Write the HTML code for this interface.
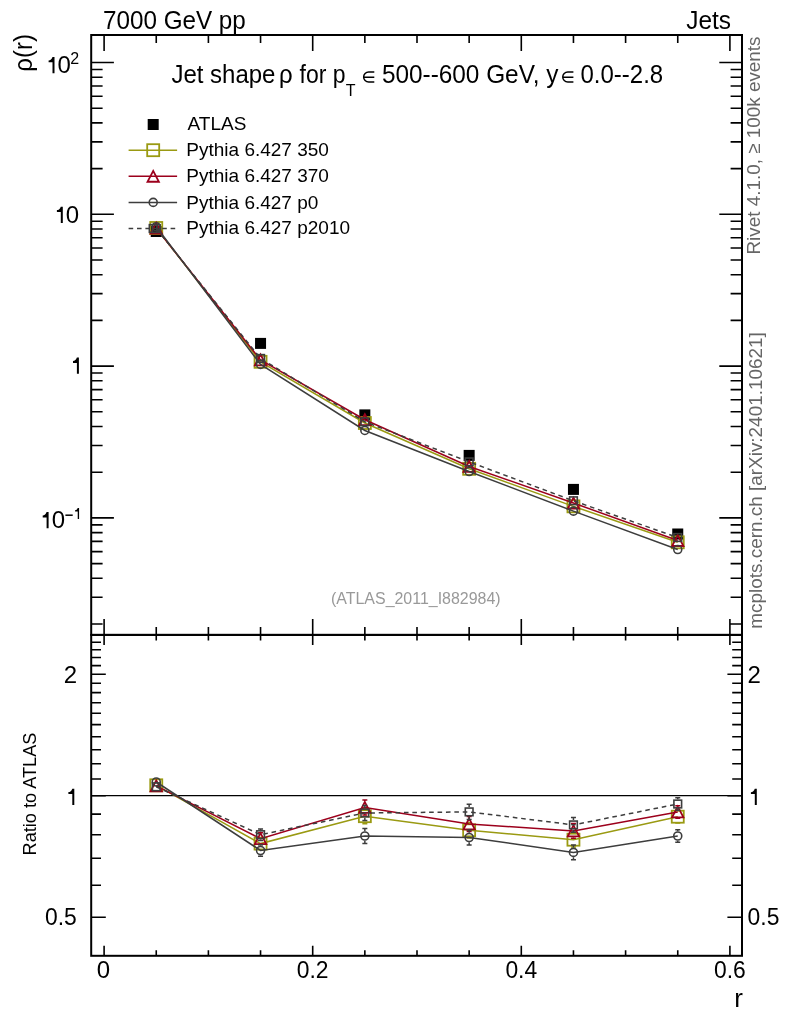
<!DOCTYPE html><html><head><meta charset="utf-8"><style>html,body{margin:0;padding:0;background:#fff;overflow:hidden}svg{display:block;will-change:transform}</style></head><body>
<svg width="786" height="1024" viewBox="0 0 786 1024" font-family="Liberation Sans, sans-serif">
<rect width="786" height="1024" fill="#fff"/>
<path d="M104.10,35.00L104.10,51.00M104.10,634.90L104.10,618.90M104.10,634.90L104.10,644.90M104.10,955.80L104.10,945.80M156.25,35.00L156.25,43.00M156.25,634.90L156.25,626.90M156.25,634.90L156.25,640.40M156.25,955.80L156.25,950.30M208.40,35.00L208.40,43.00M208.40,634.90L208.40,626.90M208.40,634.90L208.40,640.40M208.40,955.80L208.40,950.30M260.55,35.00L260.55,43.00M260.55,634.90L260.55,626.90M260.55,634.90L260.55,640.40M260.55,955.80L260.55,950.30M312.70,35.00L312.70,51.00M312.70,634.90L312.70,618.90M312.70,634.90L312.70,644.90M312.70,955.80L312.70,945.80M364.85,35.00L364.85,43.00M364.85,634.90L364.85,626.90M364.85,634.90L364.85,640.40M364.85,955.80L364.85,950.30M417.00,35.00L417.00,43.00M417.00,634.90L417.00,626.90M417.00,634.90L417.00,640.40M417.00,955.80L417.00,950.30M469.15,35.00L469.15,43.00M469.15,634.90L469.15,626.90M469.15,634.90L469.15,640.40M469.15,955.80L469.15,950.30M521.30,35.00L521.30,51.00M521.30,634.90L521.30,618.90M521.30,634.90L521.30,644.90M521.30,955.80L521.30,945.80M573.45,35.00L573.45,43.00M573.45,634.90L573.45,626.90M573.45,634.90L573.45,640.40M573.45,955.80L573.45,950.30M625.60,35.00L625.60,43.00M625.60,634.90L625.60,626.90M625.60,634.90L625.60,640.40M625.60,955.80L625.60,950.30M677.75,35.00L677.75,43.00M677.75,634.90L677.75,626.90M677.75,634.90L677.75,640.40M677.75,955.80L677.75,950.30M729.90,35.00L729.90,51.00M729.90,634.90L729.90,618.90M729.90,634.90L729.90,644.90M729.90,955.80L729.90,945.80M91.20,624.00L102.60,624.00M742.00,624.00L730.60,624.00M91.20,597.27L102.60,597.27M742.00,597.27L730.60,597.27M91.20,578.31L102.60,578.31M742.00,578.31L730.60,578.31M91.20,563.60L102.60,563.60M742.00,563.60L730.60,563.60M91.20,551.58L102.60,551.58M742.00,551.58L730.60,551.58M91.20,541.41L102.60,541.41M742.00,541.41L730.60,541.41M91.20,532.61L102.60,532.61M742.00,532.61L730.60,532.61M91.20,524.85L102.60,524.85M742.00,524.85L730.60,524.85M91.20,517.90L113.90,517.90M742.00,517.90L719.30,517.90M91.20,472.20L102.60,472.20M742.00,472.20L730.60,472.20M91.20,445.47L102.60,445.47M742.00,445.47L730.60,445.47M91.20,426.51L102.60,426.51M742.00,426.51L730.60,426.51M91.20,411.80L102.60,411.80M742.00,411.80L730.60,411.80M91.20,399.78L102.60,399.78M742.00,399.78L730.60,399.78M91.20,389.61L102.60,389.61M742.00,389.61L730.60,389.61M91.20,380.81L102.60,380.81M742.00,380.81L730.60,380.81M91.20,373.05L102.60,373.05M742.00,373.05L730.60,373.05M91.20,366.10L113.90,366.10M742.00,366.10L719.30,366.10M91.20,320.40L102.60,320.40M742.00,320.40L730.60,320.40M91.20,293.67L102.60,293.67M742.00,293.67L730.60,293.67M91.20,274.71L102.60,274.71M742.00,274.71L730.60,274.71M91.20,260.00L102.60,260.00M742.00,260.00L730.60,260.00M91.20,247.98L102.60,247.98M742.00,247.98L730.60,247.98M91.20,237.81L102.60,237.81M742.00,237.81L730.60,237.81M91.20,229.01L102.60,229.01M742.00,229.01L730.60,229.01M91.20,221.25L102.60,221.25M742.00,221.25L730.60,221.25M91.20,214.30L113.90,214.30M742.00,214.30L719.30,214.30M91.20,168.60L102.60,168.60M742.00,168.60L730.60,168.60M91.20,141.87L102.60,141.87M742.00,141.87L730.60,141.87M91.20,122.91L102.60,122.91M742.00,122.91L730.60,122.91M91.20,108.20L102.60,108.20M742.00,108.20L730.60,108.20M91.20,96.18L102.60,96.18M742.00,96.18L730.60,96.18M91.20,86.01L102.60,86.01M742.00,86.01L730.60,86.01M91.20,77.21L102.60,77.21M742.00,77.21L730.60,77.21M91.20,69.45L102.60,69.45M742.00,69.45L730.60,69.45M91.20,62.50L113.90,62.50M742.00,62.50L719.30,62.50M91.20,917.20L105.80,917.20M742.00,917.20L727.40,917.20M91.20,885.24L101.00,885.24M742.00,885.24L732.20,885.24M91.20,858.22L101.00,858.22M742.00,858.22L732.20,858.22M91.20,834.81L101.00,834.81M742.00,834.81L732.20,834.81M91.20,814.17L101.00,814.17M742.00,814.17L732.20,814.17M91.20,795.70L105.80,795.70M742.00,795.70L727.40,795.70M91.20,778.99L101.00,778.99M742.00,778.99L732.20,778.99M91.20,763.74L101.00,763.74M742.00,763.74L732.20,763.74M91.20,749.71L101.00,749.71M742.00,749.71L732.20,749.71M91.20,736.72L101.00,736.72M742.00,736.72L732.20,736.72M91.20,724.63L101.00,724.63M742.00,724.63L732.20,724.63M91.20,713.32L101.00,713.32M742.00,713.32L732.20,713.32M91.20,702.69L101.00,702.69M742.00,702.69L732.20,702.69M91.20,692.67L101.00,692.67M742.00,692.67L732.20,692.67M91.20,683.20L101.00,683.20M742.00,683.20L732.20,683.20M91.20,674.20L105.80,674.20M742.00,674.20L727.40,674.20M91.20,665.65L101.00,665.65M742.00,665.65L732.20,665.65M91.20,657.50L101.00,657.50M742.00,657.50L732.20,657.50M91.20,649.71L101.00,649.71M742.00,649.71L732.20,649.71M91.20,642.25L101.00,642.25M742.00,642.25L732.20,642.25" stroke="#000" stroke-width="1.6" fill="none"/>
<rect x="91.2" y="35.0" width="650.8" height="599.9" fill="none" stroke="#000" stroke-width="2.0"/>
<rect x="91.2" y="634.9" width="650.8" height="320.9" fill="none" stroke="#000" stroke-width="2.0"/>
<line x1="91.2" y1="795.70" x2="742.0" y2="795.70" stroke="#000" stroke-width="1.3"/>
<defs><clipPath id="cm"><rect x="91.2" y="35.0" width="650.8" height="599.9"/></clipPath><clipPath id="cr"><rect x="91.2" y="634.9" width="650.8" height="320.9"/></clipPath></defs>
<rect x="150.75" y="226.00" width="11" height="11" fill="#000"/>
<rect x="255.05" y="337.90" width="11" height="11" fill="#000"/>
<rect x="359.35" y="409.40" width="11" height="11" fill="#000"/>
<rect x="463.65" y="449.90" width="11" height="11" fill="#000"/>
<rect x="567.95" y="483.90" width="11" height="11" fill="#000"/>
<rect x="672.25" y="528.50" width="11" height="11" fill="#000"/>
<polyline points="156.25,227.99 260.55,361.82 364.85,423.01 469.15,468.81 573.45,506.35 677.75,542.30" fill="none" stroke="#9a9a12" stroke-width="1.5" clip-path="url(#cm)"/>
<rect x="150.25" y="221.99" width="12.0" height="12.0" fill="none" stroke="#9a9a12" stroke-width="1.8"/>
<rect x="254.55" y="355.82" width="12.0" height="12.0" fill="none" stroke="#9a9a12" stroke-width="1.8"/>
<rect x="358.85" y="417.01" width="12.0" height="12.0" fill="none" stroke="#9a9a12" stroke-width="1.8"/>
<rect x="463.15" y="462.81" width="12.0" height="12.0" fill="none" stroke="#9a9a12" stroke-width="1.8"/>
<rect x="567.45" y="500.35" width="12.0" height="12.0" fill="none" stroke="#9a9a12" stroke-width="1.8"/>
<rect x="671.75" y="536.30" width="12.0" height="12.0" fill="none" stroke="#9a9a12" stroke-width="1.8"/>
<polyline points="156.25,785.30 260.55,843.60 364.85,816.20 469.15,830.30 573.45,839.70 677.75,816.70" fill="none" stroke="#9a9a12" stroke-width="1.5" clip-path="url(#cr)"/>
<path d="M258.05,837.80H263.05M258.05,849.40H263.05M364.85,808.60V809.30M364.85,823.10V823.80M362.35,808.60H367.35M362.35,823.80H367.35M469.15,822.70V823.40M469.15,837.20V837.90M466.65,822.70H471.65M466.65,837.90H471.65M573.45,832.30V832.80M573.45,846.60V847.10M570.95,832.30H575.95M570.95,847.10H575.95M675.25,810.40H680.25M675.25,823.00H680.25" stroke="#9a9a12" stroke-width="1.5" fill="none"/>
<rect x="150.25" y="779.30" width="12.0" height="12.0" fill="none" stroke="#9a9a12" stroke-width="1.8"/>
<rect x="254.55" y="837.60" width="12.0" height="12.0" fill="none" stroke="#9a9a12" stroke-width="1.8"/>
<rect x="358.85" y="810.20" width="12.0" height="12.0" fill="none" stroke="#9a9a12" stroke-width="1.8"/>
<rect x="463.15" y="824.30" width="12.0" height="12.0" fill="none" stroke="#9a9a12" stroke-width="1.8"/>
<rect x="567.45" y="833.70" width="12.0" height="12.0" fill="none" stroke="#9a9a12" stroke-width="1.8"/>
<rect x="671.75" y="810.70" width="12.0" height="12.0" fill="none" stroke="#9a9a12" stroke-width="1.8"/>
<polyline points="156.25,228.18 260.55,359.94 364.85,419.74 469.15,466.44 573.45,503.04 677.75,540.53" fill="none" stroke="#9c001c" stroke-width="1.5" clip-path="url(#cm)"/>
<polygon points="156.25,222.73 161.95,233.63 150.55,233.63" fill="none" stroke="#9c001c" stroke-width="1.8"/>
<polygon points="260.55,354.49 266.25,365.39 254.85,365.39" fill="none" stroke="#9c001c" stroke-width="1.8"/>
<polygon points="364.85,414.29 370.55,425.19 359.15,425.19" fill="none" stroke="#9c001c" stroke-width="1.8"/>
<polygon points="469.15,460.99 474.85,471.89 463.45,471.89" fill="none" stroke="#9c001c" stroke-width="1.8"/>
<polygon points="573.45,497.59 579.15,508.49 567.75,508.49" fill="none" stroke="#9c001c" stroke-width="1.8"/>
<polygon points="677.75,535.08 683.45,545.98 672.05,545.98" fill="none" stroke="#9c001c" stroke-width="1.8"/>
<polyline points="156.25,785.80 260.55,838.60 364.85,807.50 469.15,824.00 573.45,830.90 677.75,812.00" fill="none" stroke="#9c001c" stroke-width="1.5" clip-path="url(#cr)"/>
<path d="M258.05,832.80H263.05M258.05,844.40H263.05M364.85,799.90V801.20M364.85,813.80V815.10M362.35,799.90H367.35M362.35,815.10H367.35M469.15,816.40V817.70M469.15,830.30V831.60M466.65,816.40H471.65M466.65,831.60H471.65M573.45,823.50V824.60M573.45,837.20V838.30M570.95,823.50H575.95M570.95,838.30H575.95M675.25,805.70H680.25M675.25,818.30H680.25" stroke="#9c001c" stroke-width="1.5" fill="none"/>
<polygon points="156.25,780.35 161.95,791.25 150.55,791.25" fill="none" stroke="#9c001c" stroke-width="1.8"/>
<polygon points="260.55,833.15 266.25,844.05 254.85,844.05" fill="none" stroke="#9c001c" stroke-width="1.8"/>
<polygon points="364.85,802.05 370.55,812.95 359.15,812.95" fill="none" stroke="#9c001c" stroke-width="1.8"/>
<polygon points="469.15,818.55 474.85,829.45 463.45,829.45" fill="none" stroke="#9c001c" stroke-width="1.8"/>
<polygon points="573.45,825.45 579.15,836.35 567.75,836.35" fill="none" stroke="#9c001c" stroke-width="1.8"/>
<polygon points="677.75,806.55 683.45,817.45 672.05,817.45" fill="none" stroke="#9c001c" stroke-width="1.8"/>
<polyline points="156.25,226.75 260.55,364.41 364.85,430.46 469.15,471.52 573.45,511.13 677.75,549.56" fill="none" stroke="#3d3d3d" stroke-width="1.5" clip-path="url(#cm)"/>
<circle cx="156.25" cy="226.75" r="4.0" fill="none" stroke="#3d3d3d" stroke-width="1.6"/>
<circle cx="260.55" cy="364.41" r="4.0" fill="none" stroke="#3d3d3d" stroke-width="1.6"/>
<circle cx="364.85" cy="430.46" r="4.0" fill="none" stroke="#3d3d3d" stroke-width="1.6"/>
<circle cx="469.15" cy="471.52" r="4.0" fill="none" stroke="#3d3d3d" stroke-width="1.6"/>
<circle cx="573.45" cy="511.13" r="4.0" fill="none" stroke="#3d3d3d" stroke-width="1.6"/>
<circle cx="677.75" cy="549.56" r="4.0" fill="none" stroke="#3d3d3d" stroke-width="1.6"/>
<polyline points="156.25,782.00 260.55,850.50 364.85,836.00 469.15,837.50 573.45,852.40 677.75,836.00" fill="none" stroke="#3d3d3d" stroke-width="1.5" clip-path="url(#cr)"/>
<path d="M260.55,844.70V845.70M260.55,855.30V856.30M258.05,844.70H263.05M258.05,856.30H263.05M364.85,828.40V831.20M364.85,840.80V843.60M362.35,828.40H367.35M362.35,843.60H367.35M469.15,829.90V832.70M469.15,842.30V845.10M466.65,829.90H471.65M466.65,845.10H471.65M573.45,845.00V847.60M573.45,857.20V859.80M570.95,845.00H575.95M570.95,859.80H575.95M677.75,829.70V831.20M677.75,840.80V842.30M675.25,829.70H680.25M675.25,842.30H680.25" stroke="#3d3d3d" stroke-width="1.5" fill="none"/>
<circle cx="156.25" cy="782.00" r="4.0" fill="none" stroke="#3d3d3d" stroke-width="1.6"/>
<circle cx="260.55" cy="850.50" r="4.0" fill="none" stroke="#3d3d3d" stroke-width="1.6"/>
<circle cx="364.85" cy="836.00" r="4.0" fill="none" stroke="#3d3d3d" stroke-width="1.6"/>
<circle cx="469.15" cy="837.50" r="4.0" fill="none" stroke="#3d3d3d" stroke-width="1.6"/>
<circle cx="573.45" cy="852.40" r="4.0" fill="none" stroke="#3d3d3d" stroke-width="1.6"/>
<circle cx="677.75" cy="836.00" r="4.0" fill="none" stroke="#3d3d3d" stroke-width="1.6"/>
<polyline points="156.25,228.55 260.55,358.47 364.85,421.81 469.15,461.89 573.45,500.78 677.75,537.52" fill="none" stroke="#3d3d3d" stroke-width="1.5" stroke-dasharray="4.6,3.8" clip-path="url(#cm)"/>
<rect x="152.40" y="224.70" width="7.7" height="7.7" fill="none" stroke="#3d3d3d" stroke-width="1.6"/>
<rect x="256.70" y="354.62" width="7.7" height="7.7" fill="none" stroke="#3d3d3d" stroke-width="1.6"/>
<rect x="361.00" y="417.96" width="7.7" height="7.7" fill="none" stroke="#3d3d3d" stroke-width="1.6"/>
<rect x="465.30" y="458.04" width="7.7" height="7.7" fill="none" stroke="#3d3d3d" stroke-width="1.6"/>
<rect x="569.60" y="496.93" width="7.7" height="7.7" fill="none" stroke="#3d3d3d" stroke-width="1.6"/>
<rect x="673.90" y="533.67" width="7.7" height="7.7" fill="none" stroke="#3d3d3d" stroke-width="1.6"/>
<polyline points="156.25,786.80 260.55,834.70 364.85,813.00 469.15,811.90 573.45,824.90 677.75,804.00" fill="none" stroke="#3d3d3d" stroke-width="1.5" stroke-dasharray="4.6,3.8" clip-path="url(#cr)"/>
<path d="M260.55,828.90V829.90M260.55,839.50V840.50M258.05,828.90H263.05M258.05,840.50H263.05M364.85,805.40V808.20M364.85,817.80V820.60M362.35,805.40H367.35M362.35,820.60H367.35M469.15,804.30V807.10M469.15,816.70V819.50M466.65,804.30H471.65M466.65,819.50H471.65M573.45,817.50V820.10M573.45,829.70V832.30M570.95,817.50H575.95M570.95,832.30H575.95M677.75,797.70V799.20M677.75,808.80V810.30M675.25,797.70H680.25M675.25,810.30H680.25" stroke="#3d3d3d" stroke-width="1.5" fill="none"/>
<rect x="152.40" y="782.95" width="7.7" height="7.7" fill="none" stroke="#3d3d3d" stroke-width="1.6"/>
<rect x="256.70" y="830.85" width="7.7" height="7.7" fill="none" stroke="#3d3d3d" stroke-width="1.6"/>
<rect x="361.00" y="809.15" width="7.7" height="7.7" fill="none" stroke="#3d3d3d" stroke-width="1.6"/>
<rect x="465.30" y="808.05" width="7.7" height="7.7" fill="none" stroke="#3d3d3d" stroke-width="1.6"/>
<rect x="569.60" y="821.05" width="7.7" height="7.7" fill="none" stroke="#3d3d3d" stroke-width="1.6"/>
<rect x="673.90" y="800.15" width="7.7" height="7.7" fill="none" stroke="#3d3d3d" stroke-width="1.6"/>
<rect x="147.7" y="119.0" width="11" height="11" fill="#000"/>
<line x1="128.6" y1="150.2" x2="177.1" y2="150.2" stroke="#9a9a12" stroke-width="1.5"/>
<rect x="147.20" y="144.20" width="12.0" height="12.0" fill="none" stroke="#9a9a12" stroke-width="1.8"/>
<line x1="128.6" y1="176.3" x2="177.1" y2="176.3" stroke="#9c001c" stroke-width="1.5"/>
<polygon points="153.20,170.85 158.90,181.75 147.50,181.75" fill="none" stroke="#9c001c" stroke-width="1.8"/>
<line x1="128.6" y1="202.4" x2="177.1" y2="202.4" stroke="#3d3d3d" stroke-width="1.5"/>
<circle cx="153.20" cy="202.40" r="4.0" fill="none" stroke="#3d3d3d" stroke-width="1.6"/>
<line x1="128.6" y1="228.5" x2="175.6" y2="228.5" stroke="#3d3d3d" stroke-width="1.5" stroke-dasharray="4.6,3.8"/>
<rect x="149.35" y="224.65" width="7.7" height="7.7" fill="none" stroke="#3d3d3d" stroke-width="1.6"/>
<text x="187.6" y="129.9" font-size="19" fill="#000">ATLAS</text>
<text x="186.3" y="155.8" font-size="19" fill="#000">Pythia 6.427 350</text>
<text x="186.3" y="182.4" font-size="19" fill="#000">Pythia 6.427 370</text>
<text x="186.3" y="209.0" font-size="19" fill="#000">Pythia 6.427 p0</text>
<text x="186.3" y="234.4" font-size="19" fill="#000">Pythia 6.427 p2010</text>
<text transform="translate(103,29.0) scale(1,1.04)" font-size="24" fill="#000" textLength="142.8" lengthAdjust="spacingAndGlyphs">7000 GeV pp</text>
<text transform="translate(686.2,29.4) scale(1,1.08)" font-size="24" fill="#000" textLength="44.8" lengthAdjust="spacingAndGlyphs">Jets</text>
<text transform="translate(171.4,83.1) scale(1,1.045)" font-size="24" fill="#000">Jet shape</text>
<text transform="translate(279,83.1) scale(1,1.045)" font-size="24" fill="#000">ρ</text>
<text transform="translate(299.5,83.1) scale(1,1.045)" font-size="24" fill="#000" textLength="46" lengthAdjust="spacingAndGlyphs">for p</text>
<text x="345.8" y="95.8" font-size="16" fill="#000">T</text>
<path d="M374.30,72.05H368.65A5.0,5.0 0 0 0 368.65,82.05H374.30M363.65,77.3H374.30M573.40,72.05H567.75A5.0,5.0 0 0 0 567.75,82.05H573.40M562.75,77.3H573.40" stroke="#000" stroke-width="1.5" fill="none"/>
<text transform="translate(381.9,83.1) scale(1,1.045)" font-size="24" fill="#000" textLength="176.5" lengthAdjust="spacingAndGlyphs">500--600 GeV, y</text>
<text transform="translate(580.5,83.1) scale(1,1.045)" font-size="24" fill="#000">0.0--2.8</text>
<text x="70.9" y="73.2" font-size="24" fill="#000" text-anchor="end">0</text>
<text x="70.2" y="63.9" font-size="16" fill="#000" text-anchor="start">2</text>
<text x="79.1" y="223.2" font-size="24" fill="#000" text-anchor="end">0</text>
<text x="65.0" y="528.3" font-size="24" fill="#000" text-anchor="end">0</text>
<line x1="65.4" y1="515.2" x2="72.7" y2="515.2" stroke="#000" stroke-width="1.5"/>
<text x="77.1" y="683.2" font-size="24" fill="#000" text-anchor="end">2</text>
<text x="76.8" y="925.4" font-size="24" fill="#000" text-anchor="end" textLength="31.8" lengthAdjust="spacingAndGlyphs">0.5</text>
<text x="747.4" y="683.2" font-size="24" fill="#000" text-anchor="start">2</text>
<text x="747.6" y="925.4" font-size="24" fill="#000" text-anchor="start" textLength="31.8" lengthAdjust="spacingAndGlyphs">0.5</text>
<text x="103.5" y="978.3" font-size="24" fill="#000" text-anchor="middle">0</text>
<text x="312.7" y="978.3" font-size="24" fill="#000" text-anchor="middle" textLength="31.8" lengthAdjust="spacingAndGlyphs">0.2</text>
<text x="521.3" y="978.3" font-size="24" fill="#000" text-anchor="middle" textLength="31.8" lengthAdjust="spacingAndGlyphs">0.4</text>
<text x="729.9" y="978.3" font-size="24" fill="#000" text-anchor="middle" textLength="31.8" lengthAdjust="spacingAndGlyphs">0.6</text>
<text x="742.8" y="1006.8" font-size="26" fill="#000" text-anchor="end">r</text>
<text transform="translate(31.8,34.1) rotate(-90) scale(1.0,1.04)" font-size="24" text-anchor="end" fill="#000">ρ(r)</text>
<text transform="translate(36.2,855.5) rotate(-90)" font-size="18" fill="#000" textLength="123" lengthAdjust="spacingAndGlyphs">Ratio to ATLAS</text>
<text transform="translate(760.4,254.5) rotate(-90)" font-size="19" fill="#666666" textLength="218" lengthAdjust="spacingAndGlyphs">Rivet 4.1.0, ≥ 100k events</text>
<text transform="translate(762.2,628.7) rotate(-90)" font-size="19" fill="#666666" textLength="296.5" lengthAdjust="spacingAndGlyphs">mcplots.cern.ch [arXiv:2401.10621]</text>
<text x="331.0" y="603.7" font-size="16" fill="#999999" textLength="169.6" lengthAdjust="spacingAndGlyphs">(ATLAS_2011_I882984)</text>
<path d="M52.50,57.00H54.50V73.20H52.50V62.30H48.60V60.40Q51.30,60.30 52.50,57.00ZM60.80,206.70H62.80V222.90H60.80V212.00H56.90V210.10Q59.60,210.00 60.80,206.70ZM76.90,357.60H78.90V373.80H76.90V362.90H73.00V361.00Q75.70,360.90 76.90,357.60ZM46.60,512.10H48.60V528.30H46.60V517.40H42.70V515.50Q45.40,515.40 46.60,512.10ZM77.73,507.96H79.08V518.90H77.73V511.54H75.09V510.26Q76.92,510.19 77.73,507.96ZM72.30,788.70H74.30V804.90H72.30V794.00H68.40V792.10Q71.10,792.00 72.30,788.70ZM754.80,788.80H756.80V805.00H754.80V794.10H750.90V792.20Q753.60,792.10 754.80,788.80Z" fill="#000"/>
</svg></body></html>
